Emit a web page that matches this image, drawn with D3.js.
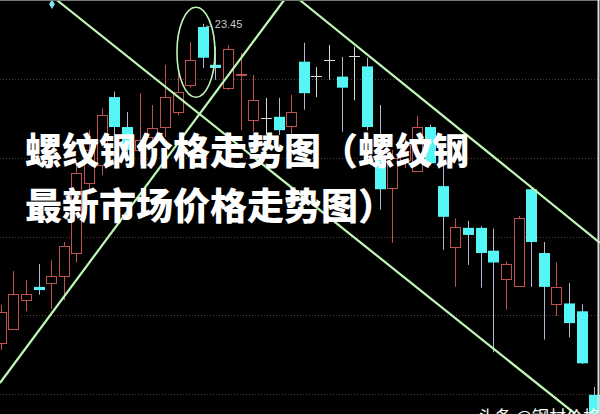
<!DOCTYPE html>
<html><head><meta charset="utf-8">
<script src="https://cdn.jsdelivr.net/npm/d3@7/dist/d3.min.js"></script>
<style>
html,body{margin:0;padding:0;background:#000;}
svg{display:block;}
</style>
</head><body>
<svg id="chart" width="600" height="414"></svg>
<script>
// ---- data ----
const days   = d3.range(1, 49);
const opens  = [19.40,19.58,19.94,20.11,20.16,20.25,20.54,21.43,21.66,22.52,22.14,21.85,22.01,22.14,22.33,22.67,23.41,22.93,22.64,22.80,22.22,22.26,22.27,22.15,22.97,22.79,22.99,22.78,23.04,22.91,21.76,21.37,21.72,21.58,22.14,21.39,20.62,20.86,20.86,20.57,20.21,20.12,21.35,20.54,19.89,19.90,19.80,18.74];
const closes = [19.79,20.02,20.02,20.07,20.25,20.63,21.56,21.85,22.29,22.14,21.85,21.98,22.13,22.52,22.59,22.99,23.02,22.89,23.13,22.81,22.48,22.26,22.10,22.33,22.57,22.79,22.99,22.64,23.04,22.14,21.35,21.75,21.91,22.14,21.68,21.00,20.87,20.77,20.54,20.42,20.40,20.98,20.68,20.11,20.11,19.65,19.14,18.50];
const highs  = [19.88,20.31,20.20,20.40,20.45,20.68,21.72,22.10,22.38,22.59,22.33,22.57,22.42,22.93,22.83,23.22,23.45,23.16,23.18,23.08,22.80,22.51,22.51,22.55,23.21,22.90,23.18,23.03,23.16,23.02,22.42,21.85,22.00,22.28,22.17,21.68,20.98,20.95,20.88,20.85,20.43,21.01,21.38,20.68,20.42,20.16,19.89,18.84];
const lows   = [19.31,19.56,19.80,20.01,19.83,19.94,20.42,21.28,21.53,22.04,21.72,21.66,21.85,22.01,22.29,22.64,22.89,22.74,22.61,22.10,22.08,22.04,22.04,22.01,22.36,22.52,22.74,22.08,22.48,22.10,21.09,20.67,21.62,21.57,21.66,20.58,20.11,20.39,20.10,19.28,19.82,20.11,20.11,19.44,19.74,19.47,19.13,18.45];
const gridPrices = [22.75, 21.75, 20.75, 19.75, 18.75];
const highLabel = {day: 17, price: 23.45, text: "←23.45"};
// trend lines as [dayIndex(0-based), price] pairs
const trendLines = [
  [[4.46, 23.75], [45.47, 18.50]],
  [[-0.06, 18.89], [22.43, 23.75]],
  [[23.70, 23.75], [47.45, 20.67]]
];
const circled = {center: [15.46, 23.09]};
const markerPoint = [4.06, 23.70];
const titleLines = ["螺纹钢价格走势图（螺纹钢", "最新市场价格走势图）"];
const watermark = "头条 @钢材价格网";

// ---- drawing ----
const W = 600, H = 414;
const svg = d3.select("#chart");
svg.append("rect").attr("width", W).attr("height", H).attr("fill", "#000");

const x = d3.scaleLinear().domain([0, 47]).range([0.7, 594.3]);
const y = d3.scaleLinear().domain([18.75, 22.75]).range([394, 79]);

// grid
svg.append("g").selectAll("line").data(gridPrices).join("line")
  .attr("x1", 0).attr("x2", W)
  .attr("y1", d => Math.round(y(d)) + 0.5).attr("y2", d => Math.round(y(d)) + 0.5)
  .attr("stroke", "#5a3a3a").attr("stroke-width", 1).attr("stroke-dasharray", "1,2");

const candles = days.map((d, i) => ({i, o: opens[i], c: closes[i], h: highs[i], l: lows[i]}));
const RED = "#c05252", CYAN = "#54f6f6", CWICK = "#b4b4d2", DOJI = "#d8d8d8";
const bw = 10;
const g = svg.append("g");
candles.forEach(d => {
  const cx = Math.round(x(d.i)) + 0.5;
  const up = d.c > d.o, doji = d.c === d.o;
  const top = y(Math.max(d.o, d.c)), bot = y(Math.min(d.o, d.c));
  const col = doji ? DOJI : (up ? RED : CWICK);
  if (up) {
    g.append("line").attr("x1", cx).attr("x2", cx).attr("y1", y(d.h)).attr("y2", top).attr("stroke", col);
    g.append("line").attr("x1", cx).attr("x2", cx).attr("y1", bot).attr("y2", y(d.l)).attr("stroke", col);
  } else {
    g.append("line").attr("x1", cx).attr("x2", cx).attr("y1", y(d.h)).attr("y2", y(d.l)).attr("stroke", col);
  }
  const bx = Math.round(x(d.i) - bw / 2);
  if (doji) {
    g.append("line").attr("x1", bx).attr("x2", bx + bw + 1).attr("y1", Math.round(top) + 0.5).attr("y2", Math.round(top) + 0.5).attr("stroke", DOJI);
  } else if (up) {
    g.append("rect").attr("x", bx + 0.5).attr("y", Math.round(top) + 0.5).attr("width", bw)
      .attr("height", Math.max(1, Math.round(bot - top))).attr("fill", "#000").attr("stroke", RED);
  } else {
    g.append("rect").attr("x", bx).attr("y", top).attr("width", bw + 1)
      .attr("height", Math.max(2, bot - top)).attr("fill", CYAN);
  }
});

// trend lines
const lineGen = d3.line().x(p => x(p[0])).y(p => y(p[1]));
svg.append("g").selectAll("path").data(trendLines).join("path")
  .attr("d", lineGen).attr("fill", "none").attr("stroke", "#bff7b4").attr("stroke-width", 2.2);

// ellipse
svg.append("ellipse").attr("cx", x(circled.center[0])).attr("cy", y(circled.center[1]))
  .attr("rx", 19).attr("ry", 45).attr("fill", "none").attr("stroke", "#bff7b4").attr("stroke-width", 1.6);

// marker diamond
svg.append("path").attr("d", d3.symbol(d3.symbolDiamond, 28)())
  .attr("transform", `translate(${x(markerPoint[0])},${y(markerPoint[1])})`)
  .attr("fill", "#7fe8f0");

// high label
svg.append("text").attr("x", x(highLabel.day - 1) + 1).attr("y", y(highLabel.price) + 4)
  .attr("fill", "#c8c8c8").attr("font-family", "Liberation Sans, Arial, sans-serif").attr("font-size", 11)
  .text(highLabel.text);

// frame
svg.append("line").attr("x1", 0).attr("x2", W).attr("y1", 0.5).attr("y2", 0.5).attr("stroke", "#777");
svg.append("line").attr("x1", W - 1.5).attr("x2", W - 1.5).attr("y1", 0).attr("y2", H).attr("stroke", "#ddd").attr("stroke-width", 2);

// title
const tg = svg.append("g").attr("font-family", "'Noto Sans CJK SC', sans-serif")
  .attr("font-weight", 900).attr("font-size", 37).attr("fill", "#fff");
tg.selectAll("text").data(titleLines).join("text")
  .attr("x", 25).attr("y", (d, i) => 165 + i * 54.5).text(d => d);

// watermark
svg.append("text").attr("x", 478).attr("y", 423).attr("fill", "#fff")
  .attr("font-family", "'Noto Sans CJK SC', sans-serif").attr("font-size", 17).text(watermark);
</script>
</body></html>
